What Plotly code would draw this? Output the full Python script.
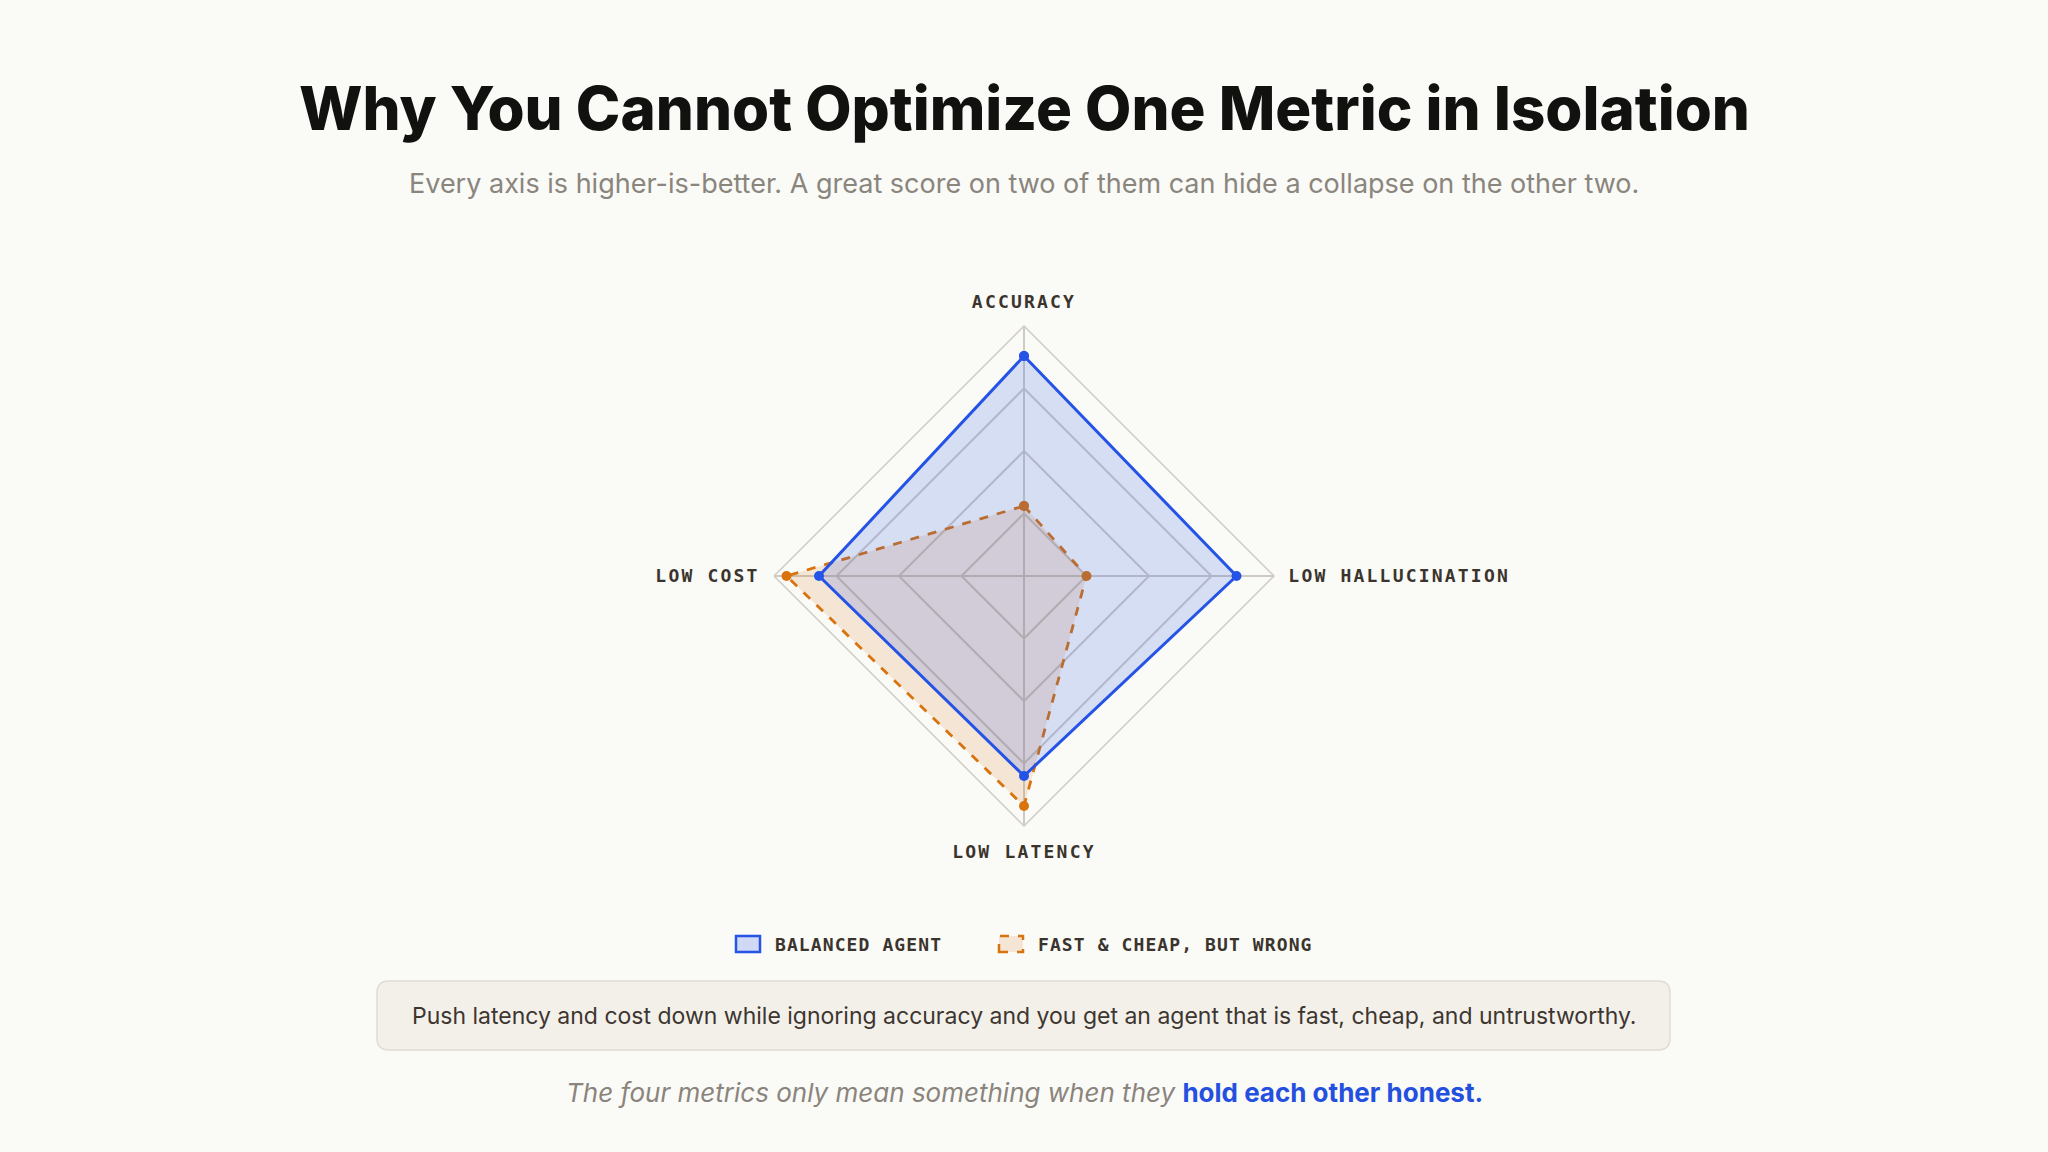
import plotly.graph_objects as go

# Data
metrics = ["ACCURACY", "LOW HALLUCINATION", "LOW LATENCY", "LOW COST"]
balanced_agent = [88, 85, 80, 82]
fast_cheap_wrong = [28, 25, 92, 95]
series_names = ["BALANCED AGENT", "FAST & CHEAP, BUT WRONG"]

BG = "#fafaf7"
BLUE = "#2553e6"
ORANGE = "#d9730d"
GRID = "#cfcbc4"
# page is 2048x1152 but the browser body has an 8px margin
OFF = 8
W, H = 2048 - 2 * OFF, 1152 - 2 * OFF


def px(x, y):
    # page pixel position -> paper coords
    return (x - OFF) / W, 1 - (y - OFF) / H


def closed(vals):
    return vals + vals[:1]


def spaced(s, sp):
    return f"<span style='letter-spacing:{sp}px'>{s}</span>"


theta = closed(metrics)

fig = go.Figure()

# orange first so the blue fill sits on top of it
fig.add_trace(go.Scatterpolar(
    r=closed(fast_cheap_wrong), theta=theta,
    mode="lines+markers", fill="toself",
    fillcolor="rgba(217,115,13,0.15)",
    line=dict(color=ORANGE, width=2.8, dash="dash"),
    marker=dict(color=ORANGE, size=10),
    name=series_names[1], showlegend=False,
))
fig.add_trace(go.Scatterpolar(
    r=closed(balanced_agent), theta=theta,
    mode="lines+markers", fill="toself",
    fillcolor="rgba(37,83,230,0.17)",
    line=dict(color=BLUE, width=3),
    marker=dict(color=BLUE, size=10),
    name=series_names[0], showlegend=False,
))

mono = dict(family="DejaVu Sans Mono, Liberation Mono, monospace", color="#3b342d")

cx0, cy0 = px(1024 - 250, 576 + 250)
cx1, cy1 = px(1024 + 250, 576 - 250)

fig.update_layout(
    width=W, height=H,
    paper_bgcolor=BG, plot_bgcolor=BG,
    margin=dict(l=0, r=0, t=0, b=0),
    polar=dict(
        bgcolor=BG,
        gridshape="linear",
        domain=dict(x=[cx0, cx1], y=[cy0, cy1]),
        radialaxis=dict(range=[0, 100], tickvals=[25, 50, 75, 100],
                        showticklabels=False, ticks="", showline=False,
                        gridcolor=GRID, gridwidth=1.5),
        angularaxis=dict(rotation=90, direction="clockwise",
                         categoryorder="array", categoryarray=metrics,
                         tickmode="array", tickvals=metrics,
                         ticktext=[spaced(m, 2.2) for m in metrics],
                         gridcolor=GRID, gridwidth=1.5,
                         showline=True, linecolor=GRID, linewidth=1.5,
                         ticks="outside", ticklen=10, tickcolor="rgba(0,0,0,0)",
                         tickfont=dict(size=18, weight=700, **mono)),
    ),
)

# Title and subtitle
fig.add_annotation(x=px(1024, 0)[0], y=px(0, 108)[1], xref="paper", yref="paper",
                   text="Why You Cannot Optimize One Metric in Isolation",
                   showarrow=False, xanchor="center", yanchor="middle",
                   font=dict(family="Inter", size=60, weight=800, color="#111110"))
fig.add_annotation(x=px(1024, 0)[0], y=px(0, 183)[1], xref="paper", yref="paper",
                   text="Every axis is higher-is-better. A great score on two of them can hide a collapse on the other two.",
                   showarrow=False, xanchor="center", yanchor="middle",
                   font=dict(family="Inter", size=27, color="#8a857d"))

# Custom legend
ly = 944
x0, y0 = px(736, ly + 8)
x1, y1 = px(760, ly - 8)
fig.add_shape(type="rect", xref="paper", yref="paper", x0=x0, y0=y0, x1=x1, y1=y1,
              fillcolor="rgba(37,83,230,0.2)", line=dict(color=BLUE, width=2.5))
x0, y0 = px(999, ly + 8)
x1, y1 = px(1023, ly - 8)
fig.add_shape(type="rect", xref="paper", yref="paper", x0=x0, y0=y0, x1=x1, y1=y1,
              fillcolor="rgba(217,115,13,0.15)", line=dict(color=ORANGE, width=2.5, dash="dash"))
for lx, name in zip([773, 1036], series_names):
    fig.add_annotation(x=px(lx, 0)[0], y=px(0, ly)[1], xref="paper", yref="paper",
                       text=spaced(name, 1.1), showarrow=False, xanchor="left", yanchor="middle",
                       font=dict(size=18, weight=600, **mono))

# Callout box with rounded corners
bx0, bx1, by0, by1, rr = 377, 1670, 981, 1050, 12


def P(x, y):
    a, b = px(x, y)
    return f"{a:.5f},{b:.5f}"


path = (f"M {P(bx0 + rr, by0)} L {P(bx1 - rr, by0)} Q {P(bx1, by0)} {P(bx1, by0 + rr)} "
        f"L {P(bx1, by1 - rr)} Q {P(bx1, by1)} {P(bx1 - rr, by1)} "
        f"L {P(bx0 + rr, by1)} Q {P(bx0, by1)} {P(bx0, by1 - rr)} "
        f"L {P(bx0, by0 + rr)} Q {P(bx0, by0)} {P(bx0 + rr, by0)} Z")
fig.add_shape(type="path", xref="paper", yref="paper", path=path,
              fillcolor="#f3f0ea", line=dict(color="#e0dcd4", width=1.5))
fig.add_annotation(x=px(1024, 0)[0], y=px(0, (by0 + by1) / 2)[1], xref="paper", yref="paper",
                   text="Push latency and cost down while ignoring accuracy and you get an agent that is fast, cheap, and untrustworthy.",
                   showarrow=False, xanchor="center", yanchor="middle",
                   font=dict(family="Inter", size=23, color="#3d3630"))

# Footer
fig.add_annotation(x=px(1024, 0)[0], y=px(0, 1092)[1], xref="paper", yref="paper",
                   text="<i>The four metrics only mean something when they</i> "
                        "<b><span style='color:#2450e0'>hold each other honest.</span></b>",
                   showarrow=False, xanchor="center", yanchor="middle",
                   font=dict(family="Inter", size=26, color="#8a847c"))

# paint the page margin in the same background colour
fig.write_html("out.html", post_script=f"document.body.style.background='{BG}';")
